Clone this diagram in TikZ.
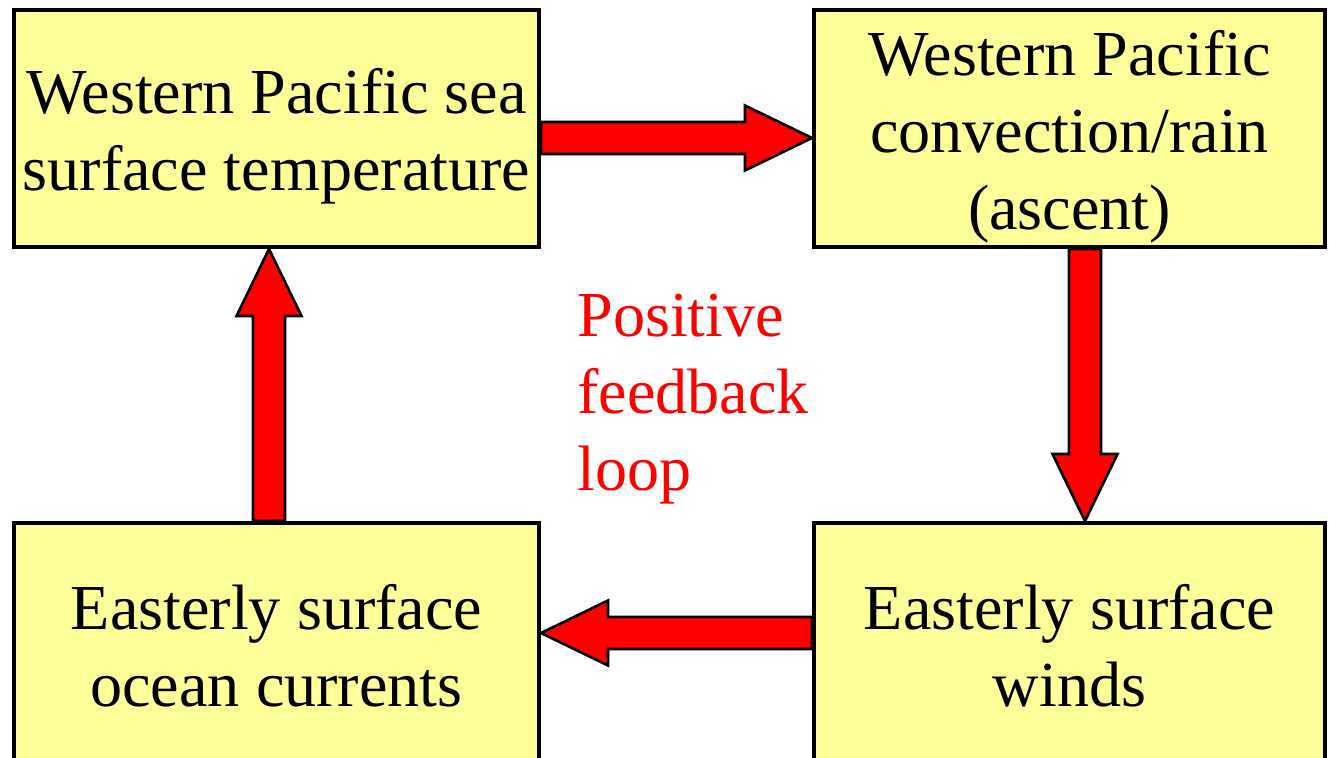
\documentclass[tikz,border=0pt]{standalone}
\usepackage{fontspec}
\setmainfont{Liberation Serif}
\newfontfamily\timesface{Liberation Serif}
\usetikzlibrary{positioning, calc}

\definecolor{boxyellow}{HTML}{FFFF99}
\definecolor{loopred}{HTML}{FF0000}

\tikzset{
    stagebox/.style={draw, line width=2.3pt, fill=boxyellow,
        minimum height=4.74cm, inner sep=0pt},
    boxtext/.style={align=center, inner sep=0pt,
        font=\timesface\fontsize{36.5}{43.8}\selectfont},
    redarrow/.style={draw, line width=1.5pt, fill=loopred, line join=miter},
}

% fat block arrow from #1 to #2
\newcommand{\feedarrow}[2]{%
    \coordinate (fa-s) at (#1);
    \coordinate (fa-e) at (#2);
    \coordinate (fa-h) at ($(fa-e)!1.34cm!(fa-s)$);
    \draw[redarrow] ($(fa-s)!0.32cm!90:(fa-e)$)
        -- ($(fa-h)!0.32cm!-90:(fa-s)$)
        -- ($(fa-h)!0.65cm!-90:(fa-s)$)
        -- (fa-e)
        -- ($(fa-h)!0.65cm!90:(fa-s)$)
        -- ($(fa-h)!0.32cm!90:(fa-s)$)
        -- ($(fa-s)!0.32cm!-90:(fa-e)$) -- cycle;
}

\begin{document}
\begin{tikzpicture}
            \useasboundingbox (0,0) rectangle (26.58,-15.16);
            \node[stagebox, minimum width=10.5cm] (sst) at (5.53,-2.57) {};
            \node[stagebox, minimum width=10.22cm] (conv) at (21.39,-2.57) {};
            \node[stagebox, minimum width=10.22cm] (winds) at (21.39,-12.83) {};
            \node[stagebox, minimum width=10.5cm] (currents) at (5.53,-12.83) {};
            % box texts sit a bit low
            \node[boxtext] (sst-text) at ([yshift=-0.16cm]sst)
                {Western Pacific sea\\surface temperature};
            \node[boxtext] (conv-text) at ([yshift=-0.16cm]conv)
                {Western Pacific\\convection/rain\\(ascent)};
            \node[boxtext] (winds-text) at ([yshift=-0.08cm]winds)
                {Easterly surface\\winds};
            \node[boxtext] (currents-text) at ([yshift=-0.08cm]currents)
                {Easterly surface\\ocean currents};
            \node[boxtext, anchor=west, align=left, text=loopred] (loop)
                at (11.54,-7.98) {Positive\\feedback\\loop};
            % the loop
            \feedarrow{[yshift=-0.19cm]sst.east}{conv.west |- fa-s}
            \feedarrow{[xshift=0.31cm]conv.south}{winds.north -| fa-s}
            \feedarrow{[yshift=0.17cm]winds.west}{currents.east |- fa-s}
            \feedarrow{[xshift=-0.15cm]currents.north}{sst.south -| fa-s}
        \end{tikzpicture}
\end{document}
